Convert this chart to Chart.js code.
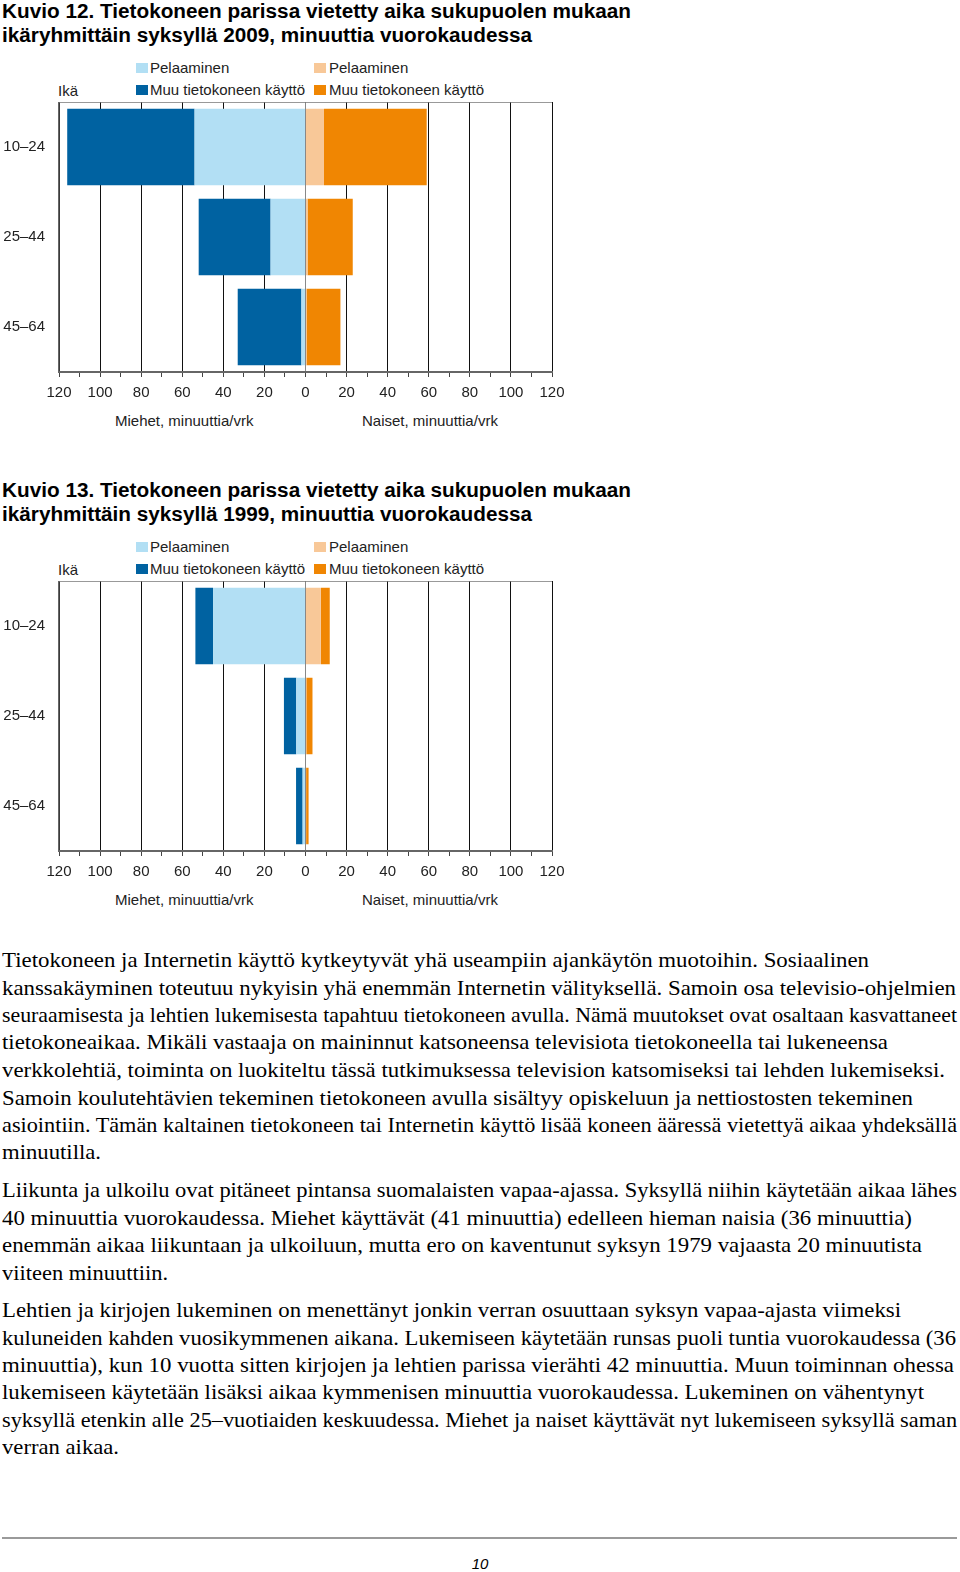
<!DOCTYPE html>
<html lang="fi">
<head>
<meta charset="utf-8">
<script src="https://cdn.jsdelivr.net/npm/chart.js@4.4.1/dist/chart.umd.min.js"></script>
<style>
  html, body { margin: 0; padding: 0; background: #fff; }
  body { width: 960px; height: 1572px; position: relative; overflow: hidden; font-family: "Liberation Sans", Arial, sans-serif; color: #000; }
  .abs { position: absolute; white-space: nowrap; }
  .title { font-weight: bold; font-size: 20px; line-height: 24px; left: 2px; }
  .lab { font-size: 15px; line-height: 18px; color: #222; }
  .sw { position: absolute; width: 12px; height: 10px; }
  .txt { font-family: "Liberation Serif", "Times New Roman", serif; font-size: 21px; line-height: 26px; left: 2px; }
  .fit { display: inline-block; transform-origin: 0 50%; }
  .chartbox { position: absolute; left: 0; width: 570px; height: 300px; }
</style>
</head>
<body>

<script>
// Data: minutes per day, by age group
const ageGroups = ['10–24', '25–44', '45–64'];

// Kuvio 12, autumn 2009
const men2009Gaming = [54, 17, 2];
const men2009Other = [62, 35, 31];
const women2009Gaming = [9, 1, 0.5];
const women2009Other = [50, 22, 16.5];

// Kuvio 13, autumn 1999
const men1999Gaming = [45, 4.5, 1.4];
const men1999Other = [8.6, 6, 3.2];
const women1999Gaming = [7.5, 0.4, 0.3];
const women1999Other = [4.3, 3, 1.2];

const legendGaming = 'Pelaaminen';
const legendOther = 'Muu tietokoneen käyttö';

const colors = {
  menGaming: '#b2dff4',
  menOther: '#0062a1',
  womenGaming: '#f8c898',
  womenOther: '#f08602'
};

const charts = [
  {
    id: 'chart2009', top: 0,
    title1: 'Kuvio 12. Tietokoneen parissa vietetty aika sukupuolen mukaan',
    title2: 'ikäryhmittäin syksyllä 2009, minuuttia vuorokaudessa',
    men: [men2009Gaming, men2009Other], women: [women2009Gaming, women2009Other]
  },
  {
    id: 'chart1999', top: 479,
    title1: 'Kuvio 13. Tietokoneen parissa vietetty aika sukupuolen mukaan',
    title2: 'ikäryhmittäin syksyllä 1999, minuuttia vuorokaudessa',
    men: [men1999Gaming, men1999Other], women: [women1999Gaming, women1999Other]
  }
];

const paragraphs = [
  [
    ['Tietokoneen ja Internetin käyttö kytkeytyvät yhä useampiin ajankäytön muotoihin. Sosiaalinen', 958, 867],
    ['kanssakäyminen toteutuu nykyisin yhä enemmän Internetin välityksellä. Samoin osa televisio-ohjelmien', 986, 954],
    ['seuraamisesta ja lehtien lukemisesta tapahtuu tietokoneen avulla. Nämä muutokset ovat osaltaan kasvattaneet', 1013, 955],
    ['tietokoneaikaa. Mikäli vastaaja on maininnut katsoneensa televisiota tietokoneella tai lukeneensa', 1040, 886],
    ['verkkolehtiä, toiminta on luokiteltu tässä tutkimuksessa television katsomiseksi tai lehden lukemiseksi.', 1068, 943],
    ['Samoin koulutehtävien tekeminen tietokoneen avulla sisältyy opiskeluun ja nettiostosten tekeminen', 1096, 911],
    ['asiointiin. Tämän kaltainen tietokoneen tai Internetin käyttö lisää koneen ääressä vietettyä aikaa yhdeksällä', 1123, 955],
    ['minuutilla.', 1150, 99]
  ],
  [
    ['Liikunta ja ulkoilu ovat pitäneet pintansa suomalaisten vapaa-ajassa. Syksyllä niihin käytetään aikaa lähes', 1188, 955],
    ['40 minuuttia vuorokaudessa. Miehet käyttävät (41 minuuttia) edelleen hieman naisia (36 minuuttia)', 1216, 910],
    ['enemmän aikaa liikuntaan ja ulkoiluun, mutta ero on kaventunut syksyn 1979 vajaasta 20 minuutista', 1243, 920],
    ['viiteen minuuttiin.', 1271, 166]
  ],
  [
    ['Lehtien ja kirjojen lukeminen on menettänyt jonkin verran osuuttaan syksyn vapaa-ajasta viimeksi', 1308, 899],
    ['kuluneiden kahden vuosikymmenen aikana. Lukemiseen käytetään runsas puoli tuntia vuorokaudessa (36', 1336, 954],
    ['minuuttia), kun 10 vuotta sitten kirjojen ja lehtien parissa vierähti 42 minuuttia. Muun toiminnan ohessa', 1363, 952],
    ['lukemiseen käytetään lisäksi aikaa kymmenisen minuuttia vuorokaudessa. Lukeminen on vähentynyt', 1390, 922],
    ['syksyllä etenkin alle 25–vuotiaiden keskuudessa. Miehet ja naiset käyttävät nyt lukemiseen syksyllä saman', 1418, 955],
    ['verran aikaa.', 1445, 117]
  ]
];

function addText(cls, text, left, top, width) {
  const d = document.createElement('div');
  d.className = 'abs ' + cls;
  d.style.left = left + 'px';
  d.style.top = top + 'px';
  const s = document.createElement('span');
  s.className = 'fit';
  s.textContent = text;
  if (width) s.dataset.w = width;
  d.appendChild(s);
  document.body.appendChild(d);
  return d;
}

function addSwatch(color, left, top) {
  const d = document.createElement('div');
  d.className = 'sw';
  d.style.background = color;
  d.style.left = left + 'px';
  d.style.top = top + 'px';
  document.body.appendChild(d);
}

// top border of the plot area
const framePlugin = {
  id: 'frame',
  afterDatasetsDraw(chart) {
    const { ctx, chartArea } = chart;
    ctx.save();
    ctx.strokeStyle = '#777';
    ctx.lineWidth = 1.5;
    ctx.beginPath();
    ctx.moveTo(chartArea.left, chartArea.top);
    ctx.lineTo(chartArea.right, chartArea.top);
    ctx.stroke();
    ctx.restore();
  }
};

function buildChart(cfg) {
  const t = cfg.top;
  addText('title', cfg.title1, 2, -1 + t, 629);
  addText('title', cfg.title2, 2, 23 + t, 530);

  addSwatch(colors.menGaming, 136, 63 + t);
  addText('lab', legendGaming, 150, 59 + t);
  addSwatch(colors.menOther, 136, 85 + t);
  addText('lab', legendOther, 150, 81 + t);
  addSwatch(colors.womenGaming, 314, 63 + t);
  addText('lab', legendGaming, 329, 59 + t);
  addSwatch(colors.womenOther, 314, 85 + t);
  addText('lab', legendOther, 329, 81 + t);
  addText('lab', 'Ikä', 58, 82 + t);

  addText('lab', 'Miehet, minuuttia/vrk', 115, 412 + t);
  addText('lab', 'Naiset, minuuttia/vrk', 362, 412 + t);

  const box = document.createElement('div');
  box.className = 'chartbox';
  box.style.top = (102 + t) + 'px';
  const canvas = document.createElement('canvas');
  canvas.id = cfg.id;
  box.appendChild(canvas);
  document.body.appendChild(box);

  new Chart(canvas.getContext('2d'), {
    type: 'bar',
    data: {
      labels: ageGroups,
      datasets: [
        { label: legendGaming, data: cfg.men[0].map(v => -v), backgroundColor: colors.menGaming },
        { label: legendOther, data: cfg.men[1].map(v => -v), backgroundColor: colors.menOther },
        { label: legendGaming, data: cfg.women[0], backgroundColor: colors.womenGaming },
        { label: legendOther, data: cfg.women[1], backgroundColor: colors.womenOther }
      ]
    },
    options: {
      indexAxis: 'y',
      responsive: true,
      maintainAspectRatio: false,
      animation: false,
      barPercentage: 0.85,
      categoryPercentage: 1,
      layout: { padding: { top: 0, right: 18, bottom: 0, left: 0 } },
      plugins: {
        legend: { display: false },
        tooltip: {
          callbacks: {
            label: function(context) {
              return `${context.dataset.label}: ${Math.abs(context.parsed.x)}`;
            }
          }
        }
      },
      scales: {
        x: {
          stacked: true,
          min: -120,
          max: 120,
          afterFit: function(scale) {
            scale.height = 30;
            scale.paddingLeft = 0;
            scale.paddingRight = 0;
          },
          ticks: {
            stepSize: 10,
            autoSkip: false,
            maxRotation: 0,
            padding: 7,
            color: '#222',
            font: { family: 'Liberation Sans', size: 15 },
            callback: function(value) {
              return value % 20 === 0 ? String(Math.abs(value)) : '';
            }
          },
          grid: {
            tickLength: 5,
            lineWidth: 1,
            tickColor: '#444',
            color: function(context) {
              if (!context.tick) return '#111';
              const v = context.tick.value;
              if (v === 0) return '#888';
              return v % 20 === 0 ? '#111' : 'rgba(0,0,0,0)';
            }
          },
          border: { color: '#666', width: 2 }
        },
        y: {
          stacked: true,
          afterFit: function(scale) {
            scale.width = 59;
            scale.paddingTop = 0;
            scale.paddingBottom = 0;
          },
          ticks: {
            padding: 14,
            color: '#222',
            font: { family: 'Liberation Sans', size: 15 }
          },
          grid: { color: 'rgba(0,0,0,0)', drawTicks: false },
          border: { color: '#666', width: 1.5 }
        }
      }
    },
    plugins: [framePlugin]
  });
}

charts.forEach(buildChart);

paragraphs.forEach(function(par) {
  par.forEach(function(line) {
    addText('txt', line[0], 2, line[1] - 11, line[2]);
  });
});

// footer
const rule = document.createElement('div');
rule.style.cssText = 'position:absolute;left:2px;top:1537px;width:955px;height:2px;background:#9a9a9a;';
document.body.appendChild(rule);
const pageNo = addText('lab', '10', 0, 1551);
pageNo.style.cssText += 'left:0;top:1555px;width:960px;text-align:center;font-style:italic;color:#000;';

// squeeze each line to the width it has in the printed page
document.querySelectorAll('.fit').forEach(function(s) {
  if (!s.dataset.w) return;
  const natural = s.getBoundingClientRect().width;
  const target = Number(s.dataset.w);
  if (natural > 0) s.style.transform = 'scaleX(' + (target / natural).toFixed(4) + ')';
});
</script>
</body>
</html>
